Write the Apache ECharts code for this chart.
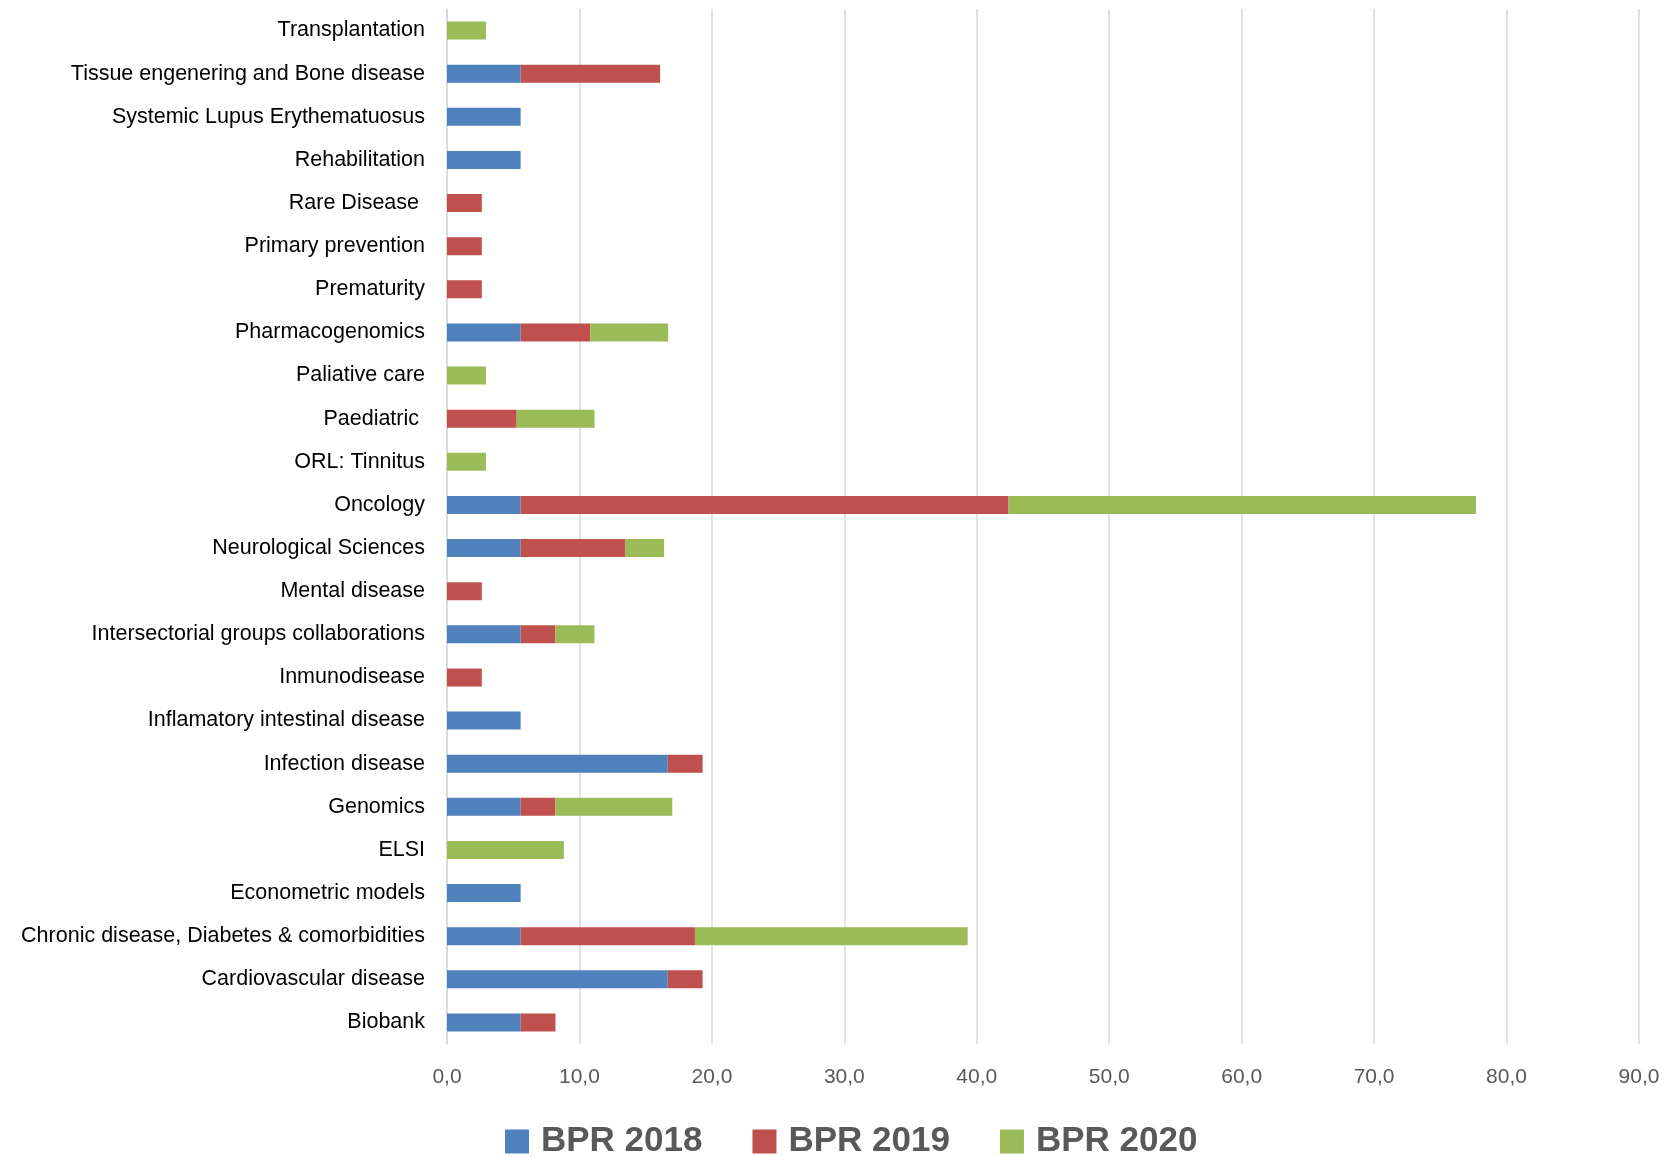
<!DOCTYPE html>
<html>
<head>
<meta charset="utf-8">
<script src="https://cdn.jsdelivr.net/npm/echarts@6/dist/echarts.min.js"></script>
<style>
html,body{margin:0;padding:0;background:#fff;}
#chart{width:1664px;height:1157px;}
</style>
</head>
<body>
<div id="chart"></div>
<script>
const categories = [
  "Biobank",
  "Cardiovascular disease",
  "Chronic disease, Diabetes & comorbidities",
  "Econometric models",
  "ELSI",
  "Genomics",
  "Infection disease",
  "Inflamatory intestinal disease",
  "Inmunodisease",
  "Intersectorial groups collaborations",
  "Mental disease",
  "Neurological Sciences",
  "Oncology",
  "ORL: Tinnitus",
  "Paediatric ",
  "Paliative care",
  "Pharmacogenomics",
  "Prematurity",
  "Primary prevention",
  "Rare Disease ",
  "Rehabilitation",
  "Systemic Lupus Erythematuosus",
  "Tissue engenering and Bone disease",
  "Transplantation"
];
const bpr2018 = [5.56, 16.67, 5.56, 5.56, 0, 5.56, 16.67, 5.56, 0, 5.56, 0, 5.56, 5.56, 0, 0, 0, 5.56, 0, 0, 0, 5.56, 5.56, 5.56, 0];
const bpr2019 = [2.63, 2.63, 13.16, 0, 0, 2.63, 2.63, 0, 2.63, 2.63, 2.63, 7.89, 36.84, 0, 5.26, 0, 5.26, 2.63, 2.63, 2.63, 0, 0, 10.53, 0];
const bpr2020 = [0, 0, 20.59, 0, 8.82, 8.82, 0, 0, 0, 2.94, 0, 2.94, 35.29, 2.94, 5.88, 2.94, 5.88, 0, 0, 0, 0, 0, 0, 2.94];
const seriesNames = ["BPR 2018", "BPR 2019", "BPR 2020"];
const colors = ["#4f81bd", "#c0504d", "#9bbb59"];

const chart = echarts.init(document.getElementById('chart'), null, {renderer: 'canvas'});
const mk = (name, data, color) => ({
  name: name,
  type: 'bar',
  stack: 'total',
  data: data.map(v => v === 0 ? null : v),
  barWidth: 18,
  itemStyle: {color: color},
  emphasis: {disabled: true}
});
chart.setOption({
  animation: false,
  textStyle: {fontFamily: 'Liberation Sans, Arial, sans-serif'},
  grid: {left: 447, right: 25, top: 9, bottom: 113, containLabel: false},
  legend: {
    data: seriesNames,
    top: 1119,
    left: 500,
    itemWidth: 24,
    itemHeight: 24,
    itemGap: 50,
    icon: 'rect',
    textStyle: {fontSize: 35, fontWeight: 'bold', color: '#595959', padding: [0, 0, 0, 7], fontFamily: 'Liberation Sans, Arial, sans-serif'}
  },
  xAxis: {
    type: 'value',
    min: 0,
    max: 90,
    interval: 10,
    axisLine: {show: false},
    axisTick: {show: false},
    splitLine: {show: true, lineStyle: {color: '#d9d9d9', width: 1.5}},
    axisLabel: {
      color: '#595959',
      fontSize: 21,
      margin: 23,
      formatter: v => v.toFixed(1).replace('.', ',')
    }
  },
  yAxis: {
    type: 'category',
    data: categories,
    axisLine: {show: true, lineStyle: {color: '#d9d9d9', width: 1.5}},
    axisTick: {show: false},
    axisLabel: {color: '#000', fontSize: 21.5, margin: 22}
  },
  series: [
    mk(seriesNames[0], bpr2018, colors[0]),
    mk(seriesNames[1], bpr2019, colors[1]),
    mk(seriesNames[2], bpr2020, colors[2])
  ]
});
</script>
</body>
</html>
